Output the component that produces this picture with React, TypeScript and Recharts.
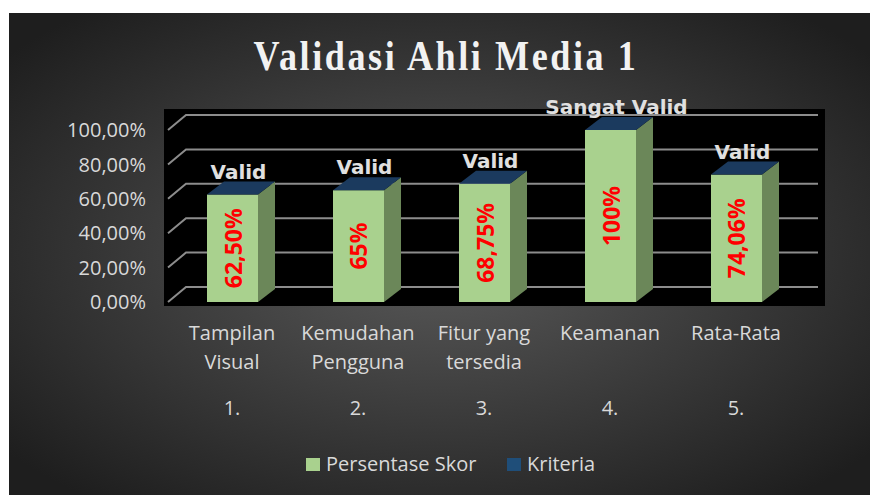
import React from 'react';
import { BarChart, Bar, XAxis, YAxis, CartesianGrid, LabelList } from 'recharts';

// chart values
const categoryLines = [['Tampilan', 'Visual'], ['Kemudahan', 'Pengguna'], ['Fitur yang', 'tersedia'], ['Keamanan'], ['Rata-Rata']];
const categoryNumbers = ['1.', '2.', '3.', '4.', '5.'];
const skor = [62.5, 65, 68.75, 100, 74.06];
const skorLabels = ['62,50%', '65%', '68,75%', '100%', '74,06%'];
const kriteria = ['Valid', 'Valid', 'Valid', 'Sangat Valid', 'Valid'];
const yTicks = [0, 20, 40, 60, 80, 100];

const GREEN = '#a9d18e';
const GREEN_SIDE = '#6b8759';
const BLUE_TOP = '#1b3a5e';
const KRITERIA_COLOR = '#1f4e79';
const TEXT = '#d9d9d9';
const FONT = '"Open Sans", sans-serif';

// depth of the 3d look
const DX = 17;
const DY = 13;

const data = categoryLines.map((lines, i) => ({
  name: lines.join(' '),
  skor: skor[i],
  label: skorLabels[i],
  kriteria: kriteria[i],
}));

function Bar3D(props: any) {
  const { x, y, width, height } = props;
  if (width == null || height == null) return null;
  return (
    <g>
      <rect x={x} y={y} width={width} height={height} fill={GREEN} />
      <polygon
        points={`${x + width},${y} ${x + width + DX},${y - DY} ${x + width + DX},${y + height - DY} ${x + width},${y + height}`}
        fill={GREEN_SIDE}
      />
      <polygon
        points={`${x},${y} ${x + DX},${y - DY} ${x + width + DX},${y - DY} ${x + width},${y}`}
        fill={BLUE_TOP}
      />
    </g>
  );
}

const CategoryTick = ({ x, y, payload, index }: any) => {
  const lines = categoryLines[index] || [payload.value];
  return (
    <g>
      {lines.map((line, i) => (
        <text key={i} x={x} y={y + 38 + i * 29} textAnchor="middle" fill={TEXT} fontSize={20} fontFamily={FONT}>
          {line}
        </text>
      ))}
      <text x={x} y={y + 113} textAnchor="middle" fill={TEXT} fontSize={20} fontFamily={FONT}>
        {categoryNumbers[index]}
      </text>
    </g>
  );
};

// gridlines drawn on the back wall with a slanted left end
const GridLine = (p: any) => {
  const { x1, y1, x2 } = p;
  return (
    <path
      key={p.key ?? `g-${y1}`}
      d={`M ${x1 - 1},${y1} L ${x1 + 17},${y1 - 15} L ${x2 + 19},${y1 - 15}`}
      stroke="#8c8c8c"
      strokeWidth={2}
      fill="none"
    />
  );
};

export default function App() {
  return (
    <div style={{ position: 'absolute', left: 0, top: 0, width: 870, height: 495, background: '#fff' }}>
      <svg width={870} height={495} style={{ position: 'absolute', left: 0, top: 0 }}>
        <defs>
          <radialGradient id="bg" cx="50%" cy="50%" r="65%">
            <stop offset="0%" stopColor="#5a5a5a" />
            <stop offset="100%" stopColor="#1e1e1e" />
          </radialGradient>
        </defs>
        <rect x={9} y={13} width={861} height={482} fill="url(#bg)" />
        <rect x={164} y={109} width={661} height={197} fill="#000" />
        {/* condensed serif title */}
        <g transform="translate(446 70) scale(0.86 1)">
          <text
            x={0}
            y={0}
            textAnchor="middle"
            fill="#f2f2f2"
            fontSize={42}
            fontWeight="bold"
            letterSpacing={3}
            fontFamily='"Liberation Serif", serif'
          >
            Validasi Ahli Media 1
          </text>
        </g>
        <rect x={306} y={458} width={14} height={13} fill={GREEN} />
        <text x={326} y={471} fill={TEXT} fontSize={20} fontFamily={FONT}>Persentase Skor</text>
        <rect x={507} y={458} width={14} height={13} fill={KRITERIA_COLOR} />
        <text x={527} y={471} fill={TEXT} fontSize={20} fontFamily={FONT}>Kriteria</text>
      </svg>
      <div style={{ position: 'absolute', left: 0, top: 0 }}>
        <BarChart width={870} height={495} data={data} margin={{ top: 130, right: 71, bottom: 43, left: 69 }}>
          <CartesianGrid vertical={false} horizontal={GridLine} />
          <XAxis
            dataKey="name"
            axisLine={false}
            tickLine={false}
            tickSize={0}
            tickMargin={0}
            height={150}
            interval={0}
            tick={<CategoryTick />}
          />
          <YAxis
            width={100}
            domain={[0, 100]}
            ticks={yTicks}
            axisLine={false}
            tickLine={false}
            tickMargin={17}
            tickFormatter={(v: number) => `${v.toFixed(2).replace('.', ',')}%`}
            tick={{ fill: TEXT, fontSize: 20, fontFamily: FONT }}
          />
          <Bar dataKey="skor" name="Persentase Skor" barSize={51} shape={<Bar3D />} isAnimationActive={false}>
            <LabelList
              dataKey="label"
              content={(p: any) => {
                const cx = p.x + p.width / 2;
                const cy = p.y + p.height / 2;
                return (
                  <text
                    x={cx}
                    y={cy}
                    transform={`rotate(-90 ${cx} ${cy})`}
                    textAnchor="middle"
                    dominantBaseline="central"
                    fill="#ff0000"
                    fontSize={23}
                    fontWeight="bold"
                    fontFamily={FONT}
                  >
                    {p.value}
                  </text>
                );
              }}
            />
            <LabelList
              dataKey="kriteria"
              content={(p: any) => (
                <text
                  x={p.x + p.width / 2 + 6}
                  y={p.y - DY - 3}
                  textAnchor="middle"
                  fill="#e0e0e0"
                  fontSize={20}
                  fontWeight="bold"
                  fontFamily='"DejaVu Sans", sans-serif'
                >
                  {p.value}
                </text>
              )}
            />
          </Bar>
        </BarChart>
      </div>
    </div>
  );
}
